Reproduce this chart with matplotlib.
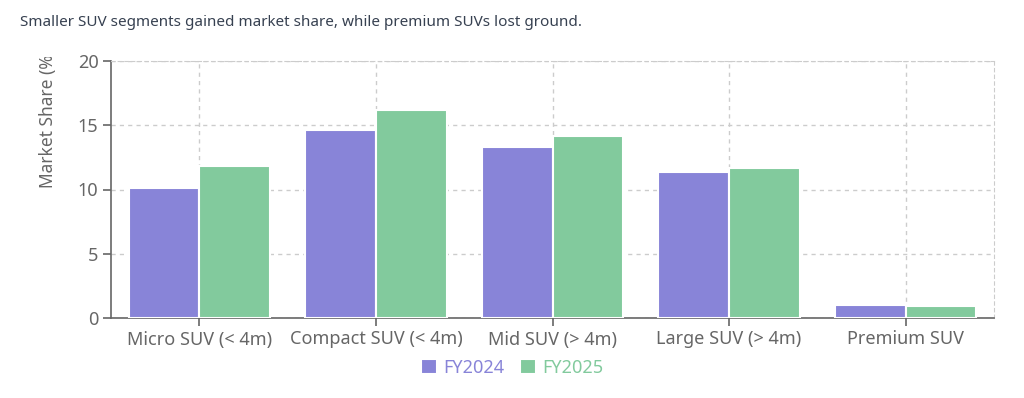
import numpy as np
import matplotlib
matplotlib.use('Agg')
import matplotlib.pyplot as plt
from matplotlib.patches import Rectangle

plt.rcParams['font.family'] = ['Noto Sans', 'DejaVu Sans']

categories = ['Micro SUV (< 4m)', 'Compact SUV (< 4m)', 'Mid SUV (> 4m)',
              'Large SUV (> 4m)', 'Premium SUV']
fy2024 = [10.1, 14.6, 13.3, 11.4, 1.0]
fy2025 = [11.8, 16.2, 14.2, 11.7, 0.9]
yticks = [0, 5, 10, 15, 20]

purple = '#8884d8'
green = '#82ca9d'
axis_grey = '#666666'

W, H = 1024, 398
fig = plt.figure(figsize=(W / 100, H / 100), dpi=100)
ax = fig.add_axes([111 / W, (H - 318) / H, (994 - 111) / W, (318 - 61) / H])

x = np.arange(len(categories))
bw = 0.4
ax.bar(x - bw / 2, fy2024, width=bw, color=purple, edgecolor='white', linewidth=1.5,
       label='FY2024', zorder=3)
ax.bar(x + bw / 2, fy2025, width=bw, color=green, edgecolor='white', linewidth=1.5,
       label='FY2025', zorder=3)

ax.set_xlim(-0.5, len(categories) - 0.5)
ax.set_ylim(0, 20)
ax.set_yticks(yticks)
ax.set_xticks(x)
ax.set_xticklabels(categories)

ax.grid(True, color='#cccccc', linestyle=(0, (3, 3)), linewidth=1, zorder=0)
for side in ['top', 'right']:
    ax.spines[side].set_visible(True)
    ax.spines[side].set_color('#cccccc')
    ax.spines[side].set_linestyle((0, (3, 3)))
for side in ['left', 'bottom']:
    ax.spines[side].set_color(axis_grey)
    ax.spines[side].set_linewidth(1.2)
ax.tick_params(axis='both', colors=axis_grey, labelcolor=axis_grey, length=6,
               width=1.2, labelsize=13, pad=3)

# y label, clipped at the top like the original
ylab = fig.text(48 / W, 1 - 118 / H, 'Market Share (%)', rotation=90,
                ha='center', va='center', fontsize=12.5, color=axis_grey)
clip = Rectangle((0, 0), W, H - 57, transform=None)
ylab.set_clip_path(clip)

fig.text(20 / W, 1 - 22 / H,
         'Smaller SUV segments gained market share, while premium SUVs lost ground.',
         ha='left', va='center', fontsize=11, color='#374151')

# legend with coloured text
leg = fig.legend(loc='center', bbox_to_anchor=(512 / W, 1 - 368 / H), ncol=2,
                 frameon=False, fontsize=13, handlelength=0.9, handleheight=0.9,
                 handletextpad=0.3, columnspacing=0.9)
for txt, col in zip(leg.get_texts(), [purple, green]):
    txt.set_color(col)

fig.savefig('out.png', dpi=100)
